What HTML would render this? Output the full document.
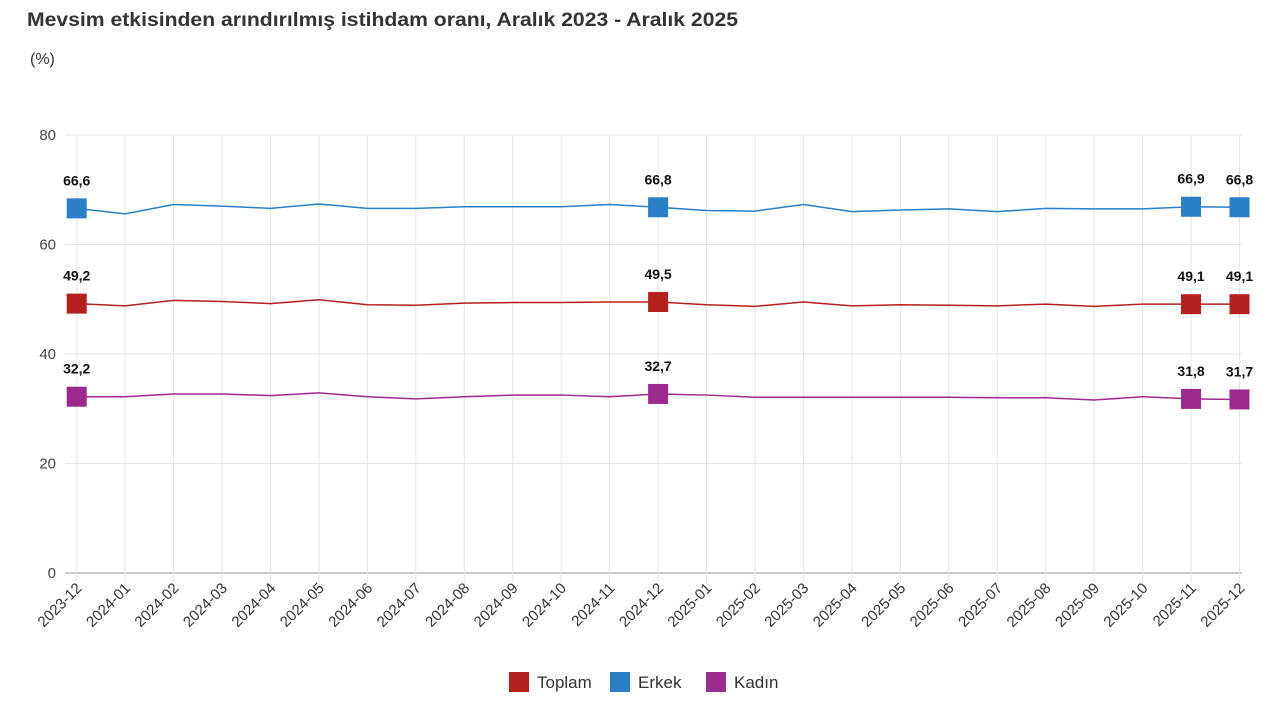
<!DOCTYPE html><html><head><meta charset="utf-8"><style>
body{margin:0;background:#fff;font-family:"Liberation Sans",sans-serif}
</style></head><body>
<svg id="c" width="1280" height="715" xmlns="http://www.w3.org/2000/svg" font-family="Liberation Sans, sans-serif">
<text x="27" y="26" font-size="19" font-weight="bold" fill="#333" textLength="711" lengthAdjust="spacingAndGlyphs">Mevsim etkisinden arındırılmış istihdam oranı, Aralık 2023 - Aralık 2025</text>
<text x="30" y="64" font-size="16" fill="#333">(%)</text>
</svg>
<script>
const s=document.getElementById('c'),NS='http://www.w3.org/2000/svg';
function el(t,a,txt){const e=document.createElementNS(NS,t);for(const k in a)e.setAttribute(k,a[k]);if(txt!=null)e.textContent=txt;s.appendChild(e);return e;}
const X=i=>76.7+i*48.45, Y=v=>573-v*5.475;
const labs=[];for(let i=0;i<25;i++){let y=2023+Math.floor((11+i)/12),m=(11+i)%12+1;labs.push(y+'-'+String(m).padStart(2,'0'));}
for(let v=0;v<=80;v+=20){el('line',{x1:65,x2:1242,y1:Y(v),y2:Y(v),stroke:v==0?'#ccc':'#e6e6e6','stroke-width':v==0?2:1});
el('text',{x:56,y:Y(v)+5,'font-size':15,fill:'#444','text-anchor':'end'},v);}
for(let i=0;i<25;i++){el('line',{x1:X(i),x2:X(i),y1:135,y2:583,stroke:'#e6e6e6'});
el('text',{transform:`translate(${X(i)+6},589) rotate(-45)`,'font-size':15,fill:'#333','text-anchor':'end'},labs[i]);}
const D=[
['#2a7fc7',[66.6,65.6,67.3,67.0,66.6,67.4,66.6,66.6,66.9,66.9,66.9,67.3,66.8,66.2,66.1,67.3,66.0,66.3,66.5,66.0,66.6,66.5,66.5,66.9,66.8]],
['#b5201e',[49.2,48.8,49.8,49.6,49.2,49.9,49.0,48.9,49.3,49.4,49.4,49.5,49.5,49.0,48.7,49.5,48.8,49.0,48.9,48.8,49.1,48.7,49.1,49.1,49.1]],
['#9b2a8f',[32.2,32.2,32.7,32.7,32.4,32.9,32.2,31.8,32.2,32.5,32.5,32.2,32.7,32.5,32.1,32.1,32.1,32.1,32.1,32.0,32.0,31.6,32.2,31.8,31.7]]];
for(const [c,d] of D){el('polyline',{points:d.map((v,i)=>X(i)+','+Y(v)).join(' '),fill:'none',stroke:c,'stroke-width':1.5,'stroke-linejoin':'round'});
for(const i of [0,12,23,24]){el('rect',{x:X(i)-10,y:Y(d[i])-10,width:20,height:20,fill:c});
el('text',{x:X(i),y:Y(d[i])-23,'font-size':14,'font-weight':'bold',fill:'#111','text-anchor':'middle'},d[i].toFixed(1).replace('.',','));}}
const L=[['#b5201e','Toplam',509],['#2a7fc7','Erkek',610],['#9b2a8f','Kadın',706]];
for(const [c,t,x] of L){el('rect',{x:x,y:672,width:20,height:20,fill:c});el('text',{x:x+28,y:688,'font-size':17,fill:'#333'},t);}
</script>
</body></html>
